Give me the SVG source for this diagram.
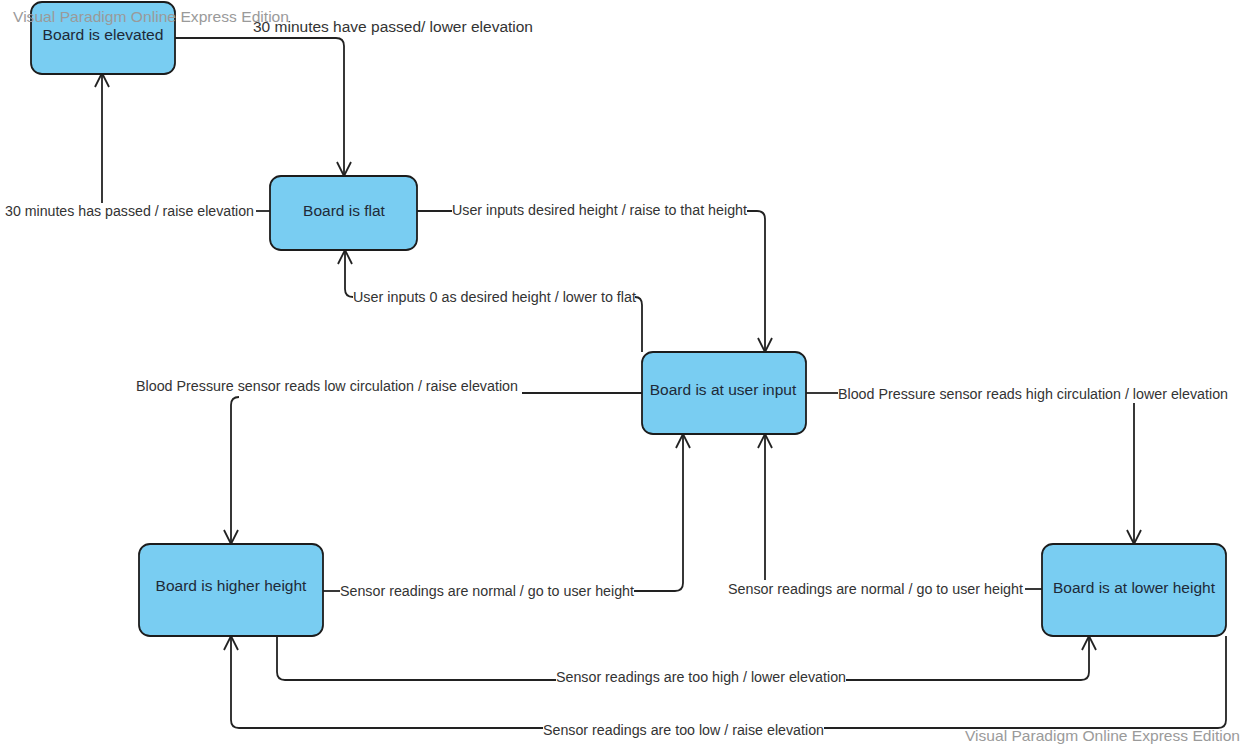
<svg xmlns="http://www.w3.org/2000/svg" width="1243" height="745" viewBox="0 0 1243 745">
<defs>
<style>
.node{fill:#79cdf2;stroke:#1c1c1c;stroke-width:1.8}
.nt{font-family:"Liberation Sans",Arial,sans-serif;font-size:15.5px;fill:#1e2a38;text-anchor:middle}
.lb{font-family:"Liberation Sans",Arial,sans-serif;font-size:14px;fill:#333}
.wm{font-family:"Liberation Sans",Arial,sans-serif;font-size:14.5px;fill:#9a9a9a}
.c{fill:none;stroke:#222;stroke-width:1.8}
.a{marker-end:url(#arr)}
</style>
<marker id="arr" viewBox="-16 -9 18 18" markerWidth="18" markerHeight="18" refX="0" refY="0" orient="auto" markerUnits="userSpaceOnUse">
<path d="M-14,-7 L0,0 L-14,7" fill="none" stroke="#222" stroke-width="1.8"/>
</marker>
</defs>
<rect width="1243" height="745" fill="#fff"/>
<g id="connectors">
<path class="c a" d="M175,38 H336 Q344,38 344,46 V176"/>
<path class="c" d="M270,211 H256"/>
<path class="c a" d="M102,203 V73"/>
<path class="c" d="M417,211 H452"/>
<path class="c a" d="M747,211 H757 Q765,211 765,219 V352"/>
<path class="c" d="M642,352 V305 Q642,297 635,297"/>
<path class="c a" d="M353,297 Q345,297 345,289 V250"/>
<path class="c" d="M642,393 H522"/>
<path class="c a" d="M239,397 Q231,397 231,405 V544"/>
<path class="c" d="M806,393 H838"/>
<path class="c a" d="M1134,403 V544"/>
<path class="c" d="M323,591 H340"/>
<path class="c a" d="M634,591 H675 Q683,591 683,583 V434"/>
<path class="c" d="M1042,589 H1025"/>
<path class="c a" d="M765,580 V434"/>
<path class="c" d="M277,636 V672 Q277,680 285,680 H556"/>
<path class="c a" d="M846,680 H1081 Q1089,680 1089,672 V636"/>
<path class="c" d="M1226,636 V720 Q1226,728 1218,728 H824"/>
<path class="c a" d="M543,728 H239 Q231,728 231,720 V636"/>
</g>
<g id="labels">
<text class="lb" x="253" y="32" textLength="280" lengthAdjust="spacingAndGlyphs">30 minutes have passed/ lower elevation</text>
<text class="lb" x="5" y="216" textLength="249" lengthAdjust="spacingAndGlyphs">30 minutes has passed / raise elevation</text>
<text class="lb" x="452" y="215" textLength="295" lengthAdjust="spacingAndGlyphs">User inputs desired height / raise to that height</text>
<text class="lb" x="353" y="302" textLength="283" lengthAdjust="spacingAndGlyphs">User inputs 0 as desired height / lower to flat</text>
<text class="lb" x="136" y="391" textLength="382" lengthAdjust="spacingAndGlyphs">Blood Pressure sensor reads low circulation / raise elevation</text>
<text class="lb" x="838" y="399" textLength="390" lengthAdjust="spacingAndGlyphs">Blood Pressure sensor reads high circulation / lower elevation</text>
<text class="lb" x="340" y="596" textLength="294" lengthAdjust="spacingAndGlyphs">Sensor readings are normal / go to user height</text>
<text class="lb" x="728" y="594" textLength="295" lengthAdjust="spacingAndGlyphs">Sensor readings are normal / go to user height</text>
<text class="lb" x="556" y="682" textLength="290" lengthAdjust="spacingAndGlyphs">Sensor readings are too high / lower elevation</text>
<text class="lb" x="543" y="735" textLength="281" lengthAdjust="spacingAndGlyphs">Sensor readings are too low / raise elevation</text>
</g>
<g id="node-elevated">
<rect class="node" x="31" y="2" width="144" height="72" rx="11"/>
<text class="nt" x="103" y="40" textLength="121" lengthAdjust="spacingAndGlyphs">Board is elevated</text>
</g>
<g id="node-flat">
<rect class="node" x="270" y="176" width="147" height="74" rx="11"/>
<text class="nt" x="344" y="216">Board is flat</text>
</g>
<g id="node-user">
<rect class="node" x="642" y="352" width="164" height="82" rx="11"/>
<text class="nt" x="723" y="395">Board is at user input</text>
</g>
<g id="node-higher">
<rect class="node" x="139" y="544" width="184" height="92" rx="11"/>
<text class="nt" x="231" y="591">Board is higher height</text>
</g>
<g id="node-lower">
<rect class="node" x="1042" y="544" width="184" height="92" rx="11"/>
<text class="nt" x="1134" y="593">Board is at lower height</text>
</g>
<g id="watermarks">
<text class="wm" x="13" y="22" textLength="276" lengthAdjust="spacingAndGlyphs">Visual Paradigm Online Express Edition</text>
<text class="wm" x="965" y="741" textLength="275" lengthAdjust="spacingAndGlyphs">Visual Paradigm Online Express Edition</text>
</g>
</svg>
